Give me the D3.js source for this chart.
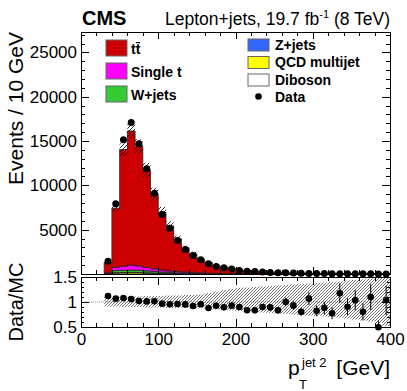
<!DOCTYPE html>
<html>
<head>
<meta charset="utf-8">
<style>
	body { margin: 0; background: #fff; }
	svg { display: block; font-family: 'Liberation Sans', Arial, sans-serif; }
	.frame { fill: none; stroke: #000; stroke-width: 1; shape-rendering: crispEdges; }
	.axis path.domain { display: none; }
	.axis line { stroke: #000; shape-rendering: crispEdges; }
	.axis text { font-size: 17px; fill: #000; font-family: 'Liberation Sans', Arial, sans-serif; }
	.leg { font-size: 14px; font-weight: bold; }
	.title { font-size: 20px; }
</style>
<script src="https://d3js.org/d3.v7.min.js"></script>
</head>
<body>
<script>
// bins of 10 GeV, 30 - 400 GeV
var binLow = d3.range(30, 400, 10);

var dataCounts = [1450, 7920, 15150, 17100, 14700, 11870, 9120, 6720, 5170, 3780,
	2770, 2090, 1600, 1150, 850, 700, 550, 400, 320, 280,
	220, 180, 150, 130, 110, 90, 70, 60, 50, 42,
	36, 30, 26, 22, 18, 14, 12];

var ttbar = [1170, 6650, 13170, 15130, 13500, 11000, 8430, 6510, 5080, 3670,
	2710, 2120, 1560, 1220, 850, 730, 550, 410, 355, 314,
	225, 186, 167, 119, 109, 104, 59, 67, 52, 50,
	27, 30, 22, 25, 14, 26, 9.4];

var singleT = [60, 390, 440, 550, 480, 370, 300, 230, 180, 140,
	105, 80, 60, 45, 35, 28, 22, 18, 15, 12,
	10, 8, 7, 6, 5, 4, 3.5, 3, 2.5, 2,
	2, 1.5, 1.5, 1, 1, 1, 1];

var wjets = [40, 230, 250, 260, 250, 210, 170, 130, 100, 80,
	60, 45, 35, 27, 21, 17, 14, 11, 9, 7,
	6, 5, 4, 3.5, 3, 2.5, 2, 2, 1.5, 1.5,
	1, 1, 1, 1, 1, 0.8, 0.8];

var zjets = [5, 30, 35, 38, 35, 30, 24, 19, 15, 11,
	9, 7, 5, 4, 3, 2.5, 2, 1.6, 1.3, 1,
	1, 0.8, 0.6, 0.5, 0.5, 0.4, 0.3, 0.3, 0.3, 0.2,
	0.2, 0.2, 0.2, 0.1, 0.1, 0.1, 0.1];

var qcd = [20, 120, 130, 150, 140, 110, 80, 60, 45, 35,
	25, 20, 15, 10, 8, 6, 5, 4, 3, 2,
	2, 1.5, 1, 1, 1, 0.8, 0.6, 0.5, 0.5, 0.4,
	0.3, 0.3, 0.3, 0.2, 0.2, 0.2, 0.2];

var diboson = [1, 5, 6, 6, 5, 4, 3, 3, 2, 2,
	1, 1, 1, 1, 0.5, 0.5, 0.4, 0.3, 0.3, 0.2,
	0.2, 0.2, 0.1, 0.1, 0.1, 0.1, 0.1, 0.1, 0.1, 0.1,
	0.1, 0.1, 0.1, 0.1, 0.1, 0.1, 0.1];

// relative MC uncertainty (main panel hatch)
var mcUnc = [0.06, 0.05, 0.05, 0.05, 0.055, 0.07, 0.08, 0.09, 0.1, 0.1,
	0.1, 0.11, 0.12, 0.13, 0.14, 0.15, 0.16, 0.17, 0.18, 0.19,
	0.2, 0.21, 0.22, 0.23, 0.24, 0.25, 0.26, 0.27, 0.28, 0.29,
	0.3, 0.31, 0.32, 0.33, 0.34, 0.35, 0.36];

// ratio panel band (up / down)
var bandUp = [0.10, 0.10, 0.10, 0.11, 0.11, 0.12, 0.12, 0.12, 0.13, 0.13,
	0.14, 0.14, 0.15, 0.18, 0.21, 0.24, 0.26, 0.28, 0.29, 0.30,
	0.31, 0.32, 0.33, 0.34, 0.35, 0.36, 0.37, 0.38, 0.39, 0.40,
	0.41, 0.43, 0.44, 0.45, 0.47, 0.55, 0.6];
var bandDown = [0.09, 0.09, 0.10, 0.10, 0.10, 0.11, 0.11, 0.11, 0.12, 0.12,
	0.12, 0.13, 0.13, 0.14, 0.15, 0.16, 0.17, 0.18, 0.19, 0.20,
	0.21, 0.22, 0.23, 0.24, 0.25, 0.26, 0.27, 0.28, 0.29, 0.30,
	0.31, 0.33, 0.35, 0.37, 0.39, 0.42, 0.48];

var xTicks = [0, 100, 200, 300, 400];
var yTicks = [5000, 10000, 15000, 20000, 25000];
var ratioTicks = [0.5, 1, 1.5];

var stackOrder = [
	{name: 'Diboson', values: diboson},
	{name: 'QCD multijet', values: qcd},
	{name: 'Z+jets', values: zjets},
	{name: 'W+jets', values: wjets},
	{name: 'Single t', values: singleT},
	{name: 'tt', values: ttbar}
];
var colors = {
	'tt': '#cc0000', 'Single t': '#ff00ff', 'W+jets': '#33cc33',
	'Z+jets': '#3366ff', 'QCD multijet': '#ffff00', 'Diboson': '#ffffff'
};

var W = 407, H = 391,
	left = 81, right = 390,
	mainTop = 32, mainBot = 274,
	ratTop = 277, ratBot = 327;

var svg = d3.select('body').append('svg')
	.attr('width', W)
	.attr('height', H);

var defs = svg.append('defs');
defs.append('pattern')
	.attr('id', 'hatch')
	.attr('patternUnits', 'userSpaceOnUse')
	.attr('width', 4).attr('height', 4)
  .append('path')
	.attr('d', 'M-1,1 l2,-2 M0,4 l4,-4 M3,5 l2,-2')
	.attr('stroke', '#000')
	.attr('stroke-width', 0.8);
defs.append('pattern')
	.attr('id', 'hatchR')
	.attr('patternUnits', 'userSpaceOnUse')
	.attr('width', 3).attr('height', 3)
  .append('path')
	.attr('d', 'M-1,1 l2,-2 M0,3 l3,-3 M2,4 l2,-2')
	.attr('stroke', '#333')
	.attr('stroke-width', 0.7);
defs.append('clipPath').attr('id', 'clipMain')
  .append('rect').attr('x', left).attr('y', mainTop)
	.attr('width', right - left).attr('height', mainBot - mainTop);
defs.append('clipPath').attr('id', 'clipRat')
  .append('rect').attr('x', left).attr('y', ratTop)
	.attr('width', right - left).attr('height', ratBot - ratTop);

var x = d3.scaleLinear().domain([0, 400]).range([left, right]);
var y = d3.scaleLinear().domain([0, 27300]).range([mainBot, mainTop]);
var yr = d3.scaleLinear().domain([0.5, 1.5]).range([ratBot, ratTop]);

// stacked histograms
var n = binLow.length;
var cum = new Array(n).fill(0);
var mcTotal = [];
var gMain = svg.append('g').attr('clip-path', 'url(#clipMain)');

var area = d3.area()
	.curve(d3.curveStepAfter)
	.x(d => x(d.x))
	.y0(d => y(d.y0))
	.y1(d => y(d.y1));

stackOrder.forEach(function(layer) {
	var pts = [];
	for (var i = 0; i <= n; i++) {
		var k = Math.min(i, n - 1);
		var lo = cum[k];
		pts.push({x: i < n ? binLow[i] : 400, y0: lo, y1: lo + layer.values[k]});
	}
	for (var j = 0; j < n; j++) cum[j] += layer.values[j];
	gMain.append('path')
		.datum(pts)
		.attr('d', area)
		.attr('fill', colors[layer.name])
		.attr('stroke', '#222')
		.attr('stroke-width', 0.8);
});
mcTotal = cum.slice();

// MC uncertainty hatch
gMain.selectAll('rect.unc')
	.data(binLow)
	.enter().append('rect')
	.attr('class', 'unc')
	.attr('x', d => x(d))
	.attr('width', d => x(d + 10) - x(d))
	.attr('y', (d, i) => y(mcTotal[i] * (1 + mcUnc[i])))
	.attr('height', (d, i) => y(mcTotal[i] * (1 - mcUnc[i])) - y(mcTotal[i] * (1 + mcUnc[i])))
	.attr('fill', 'url(#hatch)');

// data points
gMain.selectAll('line.err')
	.data(binLow)
	.enter().append('line')
	.attr('x1', d => x(d + 5)).attr('x2', d => x(d + 5))
	.attr('y1', (d, i) => y(dataCounts[i] + Math.sqrt(dataCounts[i])))
	.attr('y2', (d, i) => y(dataCounts[i] - Math.sqrt(dataCounts[i])))
	.attr('stroke', '#000');
svg.append('g').selectAll('circle')
	.data(binLow)
	.enter().append('circle')
	.attr('cx', d => x(d + 5))
	.attr('cy', (d, i) => y(dataCounts[i]))
	.attr('r', 3.5)
	.attr('fill', '#000');

// ratio panel
var gRat = svg.append('g').attr('clip-path', 'url(#clipRat)');
gRat.append('line')
	.attr('x1', x(0)).attr('x2', x(400))
	.attr('y1', yr(1)).attr('y2', yr(1))
	.attr('stroke', '#999')
	.attr('stroke-dasharray', '1,1');
gRat.selectAll('rect.band')
	.data(binLow)
	.enter().append('rect')
	.attr('x', d => x(d))
	.attr('width', d => x(d + 10) - x(d))
	.attr('y', (d, i) => yr(1 + bandUp[i]))
	.attr('height', (d, i) => yr(1 - bandDown[i]) - yr(1 + bandUp[i]))
	.attr('fill', 'url(#hatchR)');

var ratio = binLow.map((d, i) => dataCounts[i] / mcTotal[i]);
var ratioErr = binLow.map((d, i) => Math.sqrt(dataCounts[i]) / mcTotal[i]);
gRat.selectAll('line.rerr')
	.data(binLow)
	.enter().append('line')
	.attr('x1', d => x(d + 5)).attr('x2', d => x(d + 5))
	.attr('y1', (d, i) => yr(ratio[i] + ratioErr[i]))
	.attr('y2', (d, i) => yr(ratio[i] - ratioErr[i]))
	.attr('stroke', '#000');
svg.append('g').selectAll('circle')
	.data(binLow)
	.enter().append('circle')
	.attr('cx', d => x(d + 5))
	.attr('cy', (d, i) => yr(ratio[i]))
	.attr('r', 3.3)
	.attr('fill', '#000');

// frames
svg.append('rect').attr('class', 'frame')
	.attr('x', left).attr('y', mainTop)
	.attr('width', right - left).attr('height', mainBot - mainTop);
svg.append('rect').attr('class', 'frame')
	.attr('x', left).attr('y', ratTop)
	.attr('width', right - left).attr('height', ratBot - ratTop);

// axes
var xMinor = d3.range(20, 400, 20).filter(d => d % 100 !== 0);
var yMinor = d3.range(1000, 27300, 1000).filter(d => d % 5000 !== 0);
var rMinor = d3.range(0.6, 1.45, 0.1).filter(d => Math.abs(d - 1) > 0.01);

function addAxis(axis, tx, ty) {
	svg.append('g')
		.attr('class', 'axis')
		.attr('transform', 'translate(' + tx + ',' + ty + ')')
		.call(axis);
}

// main panel
addAxis(d3.axisLeft(y).tickValues(yTicks).tickSize(-8).tickPadding(4).tickFormat(d3.format('d')), left, 0);
addAxis(d3.axisLeft(y).tickValues(yMinor).tickSize(-4).tickFormat(''), left, 0);
addAxis(d3.axisRight(y).tickValues(yTicks).tickSize(-8).tickFormat(''), right, 0);
addAxis(d3.axisRight(y).tickValues(yMinor).tickSize(-4).tickFormat(''), right, 0);
addAxis(d3.axisBottom(x).tickValues(xTicks).tickSize(-7).tickFormat(''), 0, mainBot);
addAxis(d3.axisBottom(x).tickValues(xMinor).tickSize(-4).tickFormat(''), 0, mainBot);
addAxis(d3.axisTop(x).tickValues(xTicks).tickSize(-7).tickFormat(''), 0, mainTop);
addAxis(d3.axisTop(x).tickValues(xMinor).tickSize(-4).tickFormat(''), 0, mainTop);

// ratio panel
addAxis(d3.axisLeft(yr).tickValues(ratioTicks).tickSize(-8).tickPadding(4).tickFormat(d3.format('')), left, 0);
addAxis(d3.axisLeft(yr).tickValues(rMinor).tickSize(-3).tickFormat(''), left, 0);
addAxis(d3.axisRight(yr).tickValues(ratioTicks).tickSize(-8).tickFormat(''), right, 0);
addAxis(d3.axisRight(yr).tickValues(rMinor).tickSize(-3).tickFormat(''), right, 0);
addAxis(d3.axisBottom(x).tickValues(xTicks).tickSize(-8).tickPadding(6).tickFormat(d3.format('d')), 0, ratBot);
addAxis(d3.axisBottom(x).tickValues(xMinor).tickSize(-4).tickFormat(''), 0, ratBot);
addAxis(d3.axisTop(x).tickValues(xTicks).tickSize(-8).tickFormat(''), 0, ratTop);
addAxis(d3.axisTop(x).tickValues(xMinor).tickSize(-4).tickFormat(''), 0, ratTop);

// titles
svg.append('text')
	.attr('class', 'title')
	.attr('transform', 'translate(23,' + mainTop + ') rotate(-90)')
	.attr('text-anchor', 'end')
	.style('font-size', '21px')
	.text('Events / 10 GeV');
svg.append('text')
	.attr('class', 'title')
	.attr('transform', 'translate(23,' + yr(1) + ') rotate(-90)')
	.attr('text-anchor', 'middle')
	.text('Data/MC');

svg.append('text')
	.attr('class', 'title')
	.attr('x', 288).attr('y', 375)
	.style('font-size', '21px')
	.text('p');
svg.append('text')
	.attr('x', 302).attr('y', 367)
	.style('font-size', '13px')
	.text('jet 2');
svg.append('text')
	.attr('x', 299).attr('y', 389)
	.style('font-size', '13px')
	.text('T');
svg.append('text')
	.attr('class', 'title')
	.attr('x', right).attr('y', 375)
	.attr('text-anchor', 'end')
	.style('font-size', '21px')
	.text('[GeV]');

svg.append('text')
	.attr('x', 82).attr('y', 25)
	.style('font-size', '20px')
	.style('font-weight', 'bold')
	.text('CMS');
var lt = svg.append('text')
	.attr('x', right).attr('y', 25)
	.attr('text-anchor', 'end')
	.style('font-size', '17.5px');
lt.append('tspan').text('Lepton+jets, 19.7 fb');
lt.append('tspan').attr('dy', -7).style('font-size', '11px').text('-1');
lt.append('tspan').attr('dy', 7).text(' (8 TeV)');

// legend
var legLeft = [
	{key: 'tt', label: 't\u0074\u0304'},
	{key: 'Single t', label: 'Single t'},
	{key: 'W+jets', label: 'W+jets'}
];
var legRight = [
	{key: 'Z+jets', label: 'Z+jets'},
	{key: 'QCD multijet', label: 'QCD multijet'},
	{key: 'Diboson', label: 'Diboson'}
];
legLeft.forEach(function(d, i) {
	svg.append('rect')
		.attr('x', 106).attr('y', 40 + i * 23)
		.attr('width', 21).attr('height', 16)
		.attr('fill', colors[d.key])
		.attr('stroke', '#666');
	svg.append('text')
		.attr('class', 'leg')
		.attr('x', 131).attr('y', 54 + i * 23)
		.text(d.label);
});
legRight.forEach(function(d, i) {
	svg.append('rect')
		.attr('x', 248).attr('y', 39 + i * 17.5)
		.attr('width', 21).attr('height', 12)
		.attr('fill', colors[d.key])
		.attr('stroke', '#666');
	svg.append('text')
		.attr('class', 'leg')
		.attr('x', 275).attr('y', 49.5 + i * 17.5)
		.text(d.label);
});
svg.append('circle')
	.attr('cx', 258.5).attr('cy', 96.5)
	.attr('r', 3.3)
	.attr('fill', '#000');
svg.append('text')
	.attr('class', 'leg')
	.attr('x', 275).attr('y', 102)
	.text('Data');
</script>
</body>
</html>
